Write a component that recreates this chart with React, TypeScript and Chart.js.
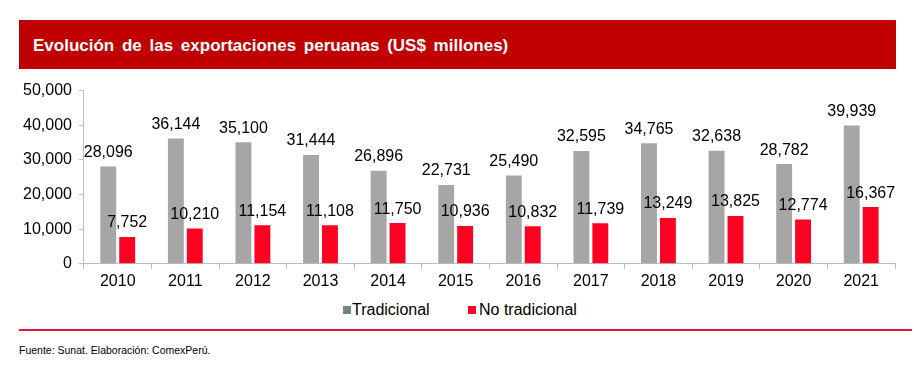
import React, { useEffect, useRef } from "react";
import { Chart, registerables } from "chart.js";

Chart.register(...registerables);

const years = ["2010", "2011", "2012", "2013", "2014", "2015", "2016", "2017", "2018", "2019", "2020", "2021"];
const tradicional = [28096, 36144, 35100, 31444, 26896, 22731, 25490, 32595, 34765, 32638, 28782, 39939];
const noTradicional = [7752, 10210, 11154, 11108, 11750, 10936, 10832, 11739, 13249, 13825, 12774, 16367];
const yTicks = [0, 10000, 20000, 30000, 40000, 50000];

const FONT = "'Liberation Sans', Arial, sans-serif";
const GRAY = "#A6A6A6";
const RED = "#FF0022";

const valueLabels = {
  id: "valueLabels",
  afterDatasetsDraw(chart: any) {
    const ctx = chart.ctx;
    ctx.save();
    ctx.font = `16px ${FONT}`;
    ctx.fillStyle = "#000";
    ctx.textAlign = "center";
    ctx.textBaseline = "bottom";
    chart.data.datasets.forEach((ds: any, i: number) => {
      const meta = chart.getDatasetMeta(i);
      meta.data.forEach((bar: any, j: number) => {
        const v = ds.data[j];
        ctx.fillText(v.toLocaleString("en-US"), bar.x, bar.y - 6);
      });
    });
    ctx.restore();
  },
};

export default function App() {
  const ref = useRef<HTMLCanvasElement>(null);
  useEffect(() => {
    if (!ref.current) return;
    const chart = new Chart(ref.current, {
      type: "bar",
      data: {
        labels: years,
        datasets: [
          { label: "Tradicional", data: tradicional, backgroundColor: GRAY, categoryPercentage: 0.56, barPercentage: 0.84 },
          { label: "No tradicional", data: noTradicional, backgroundColor: RED, categoryPercentage: 0.56, barPercentage: 0.84 },
        ],
      },
      options: {
        animation: false,
        responsive: false,
        maintainAspectRatio: false,
        layout: { padding: { top: 12, right: 19, left: 16, bottom: 0 } },
        plugins: { legend: { display: false }, tooltip: { enabled: false } },
        scales: {
          x: {
            grid: { display: true, drawOnChartArea: false, tickLength: 5, color: "#B7C0C0" },
            border: { color: "#B7C0C0" },
            ticks: { color: "#000", font: { family: FONT, size: 16 }, padding: 3 },
          },
          y: {
            min: 0,
            max: 50000,
            afterBuildTicks: (axis: any) => {
              axis.ticks = yTicks.map((v) => ({ value: v }));
            },
            grid: { display: true, drawOnChartArea: false, tickLength: 5, color: "#B7C0C0" },
            border: { color: "#B7C0C0" },
            ticks: {
              color: "#000",
              font: { family: FONT, size: 16 },
              padding: 7,
              callback: (v: any) => Number(v).toLocaleString("en-US"),
            },
          },
        },
      },
      plugins: [valueLabels],
    });
    return () => chart.destroy();
  }, []);

  return (
    <div style={{ position: "absolute", left: 0, top: 0, width: 914, height: 369, background: "#fff", fontFamily: FONT }}>
      <div
        style={{
          position: "absolute",
          left: 19,
          top: 20,
          width: 877,
          height: 49,
          background: "#C00000",
          color: "#fff",
          fontWeight: "bold",
          fontSize: 17,
          lineHeight: "51px",
          paddingLeft: 14,
          boxSizing: "border-box",
          wordSpacing: 3,
          whiteSpace: "nowrap",
        }}
      >
        Evolución de las exportaciones peruanas (US$ millones)
      </div>
      <canvas ref={ref} width={914} height={220} style={{ position: "absolute", left: 0, top: 74, width: 914, height: 220 }} />
      <div style={{ position: "absolute", top: 300, left: 0, width: 914, height: 20, fontSize: 16, color: "#000" }}>
        <div style={{ position: "absolute", left: 343, top: 6, width: 8, height: 8, background: "#738585" }} />
        <div style={{ position: "absolute", left: 352, top: 0, lineHeight: "20px" }}>Tradicional</div>
        <div style={{ position: "absolute", left: 468, top: 6, width: 8, height: 8, background: RED }} />
        <div style={{ position: "absolute", left: 479, top: 0, lineHeight: "20px" }}>No tradicional</div>
      </div>
      <div style={{ position: "absolute", left: 19, top: 329, width: 893, height: 2, background: "#E0183A" }} />
      <div style={{ position: "absolute", left: 19, top: 344, fontSize: 10.5, color: "#000", whiteSpace: "nowrap" }}>
        Fuente: Sunat. Elaboración: ComexPerú.
      </div>
    </div>
  );
}
